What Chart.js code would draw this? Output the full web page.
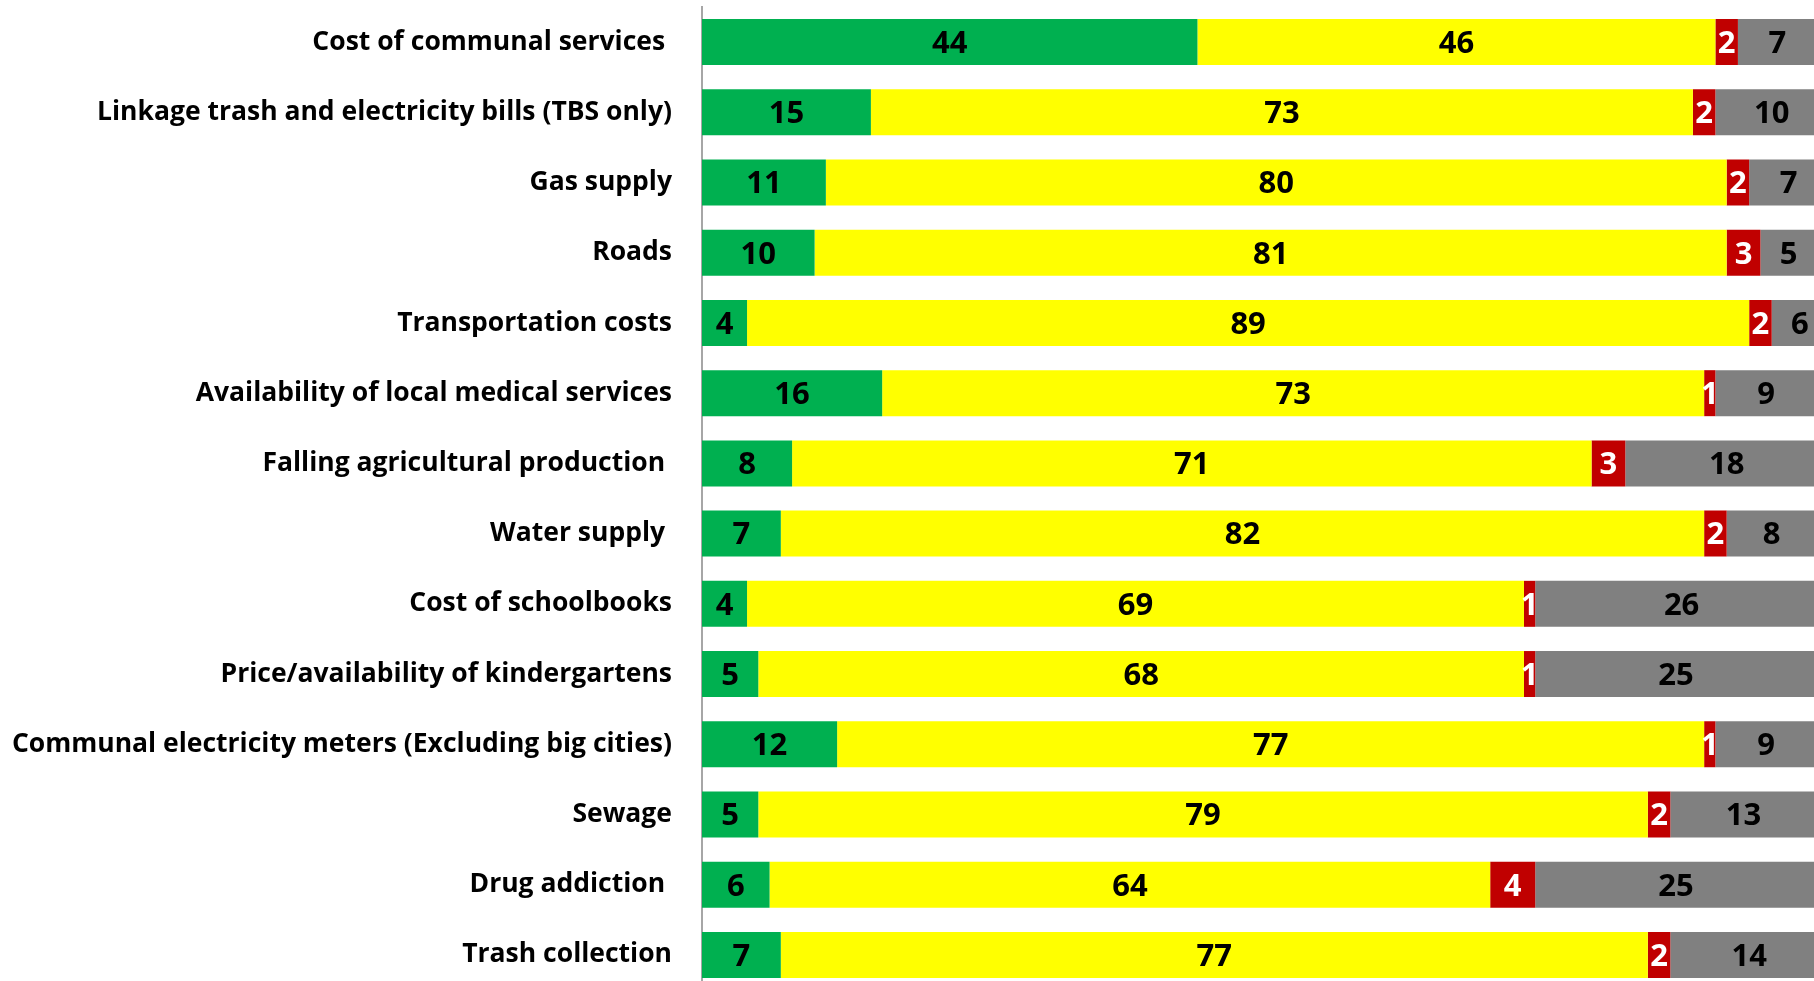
<!DOCTYPE html>
<html>
<head>
    <title>Stacked Bar Chart</title>
    <script src="https://cdn.jsdelivr.net/npm/chart.js"></script>
    <meta charset="UTF-8" />
    <style>
  html, body {
    margin: 0;
    padding: 0;
    overflow: hidden;
    background: #ffffff;
  }
  canvas {
    display: block;
  }
</style>
</head>
<body>
    <canvas id="myChart" width="1828" height="990" style="width:1828px;height:990px;"></canvas>
    <script>
        // categories (top to bottom) - trailing spaces are in the original labels
        const categories = [
            'Cost of communal services ',
            'Linkage trash and electricity bills (TBS only)',
            'Gas supply',
            'Roads',
            'Transportation costs',
            'Availability of local medical services',
            'Falling agricultural production ',
            'Water supply ',
            'Cost of schoolbooks',
            'Price/availability of kindergartens',
            'Communal electricity meters (Excluding big cities)',
            'Sewage',
            'Drug addiction ',
            'Trash collection'
        ];
        const greenValues  = [44, 15, 11, 10, 4, 16, 8, 7, 4, 5, 12, 5, 6, 7];
        const yellowValues = [46, 73, 80, 81, 89, 73, 71, 82, 69, 68, 77, 79, 64, 77];
        const redValues    = [2, 2, 2, 3, 2, 1, 3, 2, 1, 1, 1, 2, 4, 2];
        const greyValues   = [7, 10, 7, 5, 6, 9, 18, 8, 26, 25, 9, 13, 25, 14];

        // draw the numbers in the middle of each segment
        const segmentLabels = {
            id: 'segmentLabels',
            afterDatasetsDraw(chart) {
                const ctx = chart.ctx;
                const area = chart.chartArea;
                ctx.save();
                ctx.font = 'bold 31px "Open Sans"';
                ctx.textAlign = 'center';
                ctx.textBaseline = 'middle';
                chart.data.datasets.forEach((ds, i) => {
                    const meta = chart.getDatasetMeta(i);
                    meta.data.forEach((bar, j) => {
                        const p = bar.getProps(['x', 'y', 'base'], true);
                        const left = Math.min(p.x, p.base);
                        const right = Math.min(Math.max(p.x, p.base), area.right);
                        ctx.fillStyle = ds.labelColor;
                        ctx.fillText(String(ds.data[j]), (left + right) / 2, p.y + 2);
                    });
                });
                ctx.restore();
            }
        };

        const ctx = document.getElementById('myChart').getContext('2d');
        const myChart = new Chart(ctx, {
            type: 'bar',
            data: {
                labels: categories,
                datasets: [{
                    data: greenValues,
                    backgroundColor: '#00B050',
                    labelColor: '#000000'
                },
                {
                    data: yellowValues,
                    backgroundColor: '#FFFF00',
                    labelColor: '#000000'
                },
                {
                    data: redValues,
                    backgroundColor: '#C00000',
                    labelColor: '#ffffff'
                },
                {
                    data: greyValues,
                    backgroundColor: '#808080',
                    labelColor: '#000000'
                }]
            },
            plugins: [segmentLabels],
            options: {
                indexAxis: 'y',
                responsive: false,
                animation: false,
                barPercentage: 0.655,
                categoryPercentage: 1,
                borderWidth: 0,
                layout: { padding: { top: 7, right: 0, bottom: 0, left: 0 } },
                plugins: {
                    legend: { display: false },
                    tooltip: { enabled: false }
                },
                scales: {
                    x: {
                        stacked: true,
                        min: 0,
                        max: 100,
                        display: false
                    },
                    y: {
                        stacked: true,
                        afterFit(scale) {
                            scale.width = 702;
                            scale.paddingTop = 0;
                            scale.paddingBottom = 0;
                        },
                        grid: { display: false, drawTicks: false },
                        border: { display: true, color: '#a6a6a6', width: 2 },
                        ticks: {
                            color: '#000000',
                            padding: 30,
                            font: { family: '"Open Sans"', size: 26.5, weight: 'bold' }
                        }
                    }
                }
            }
        });
    </script>
</body>
</html>
